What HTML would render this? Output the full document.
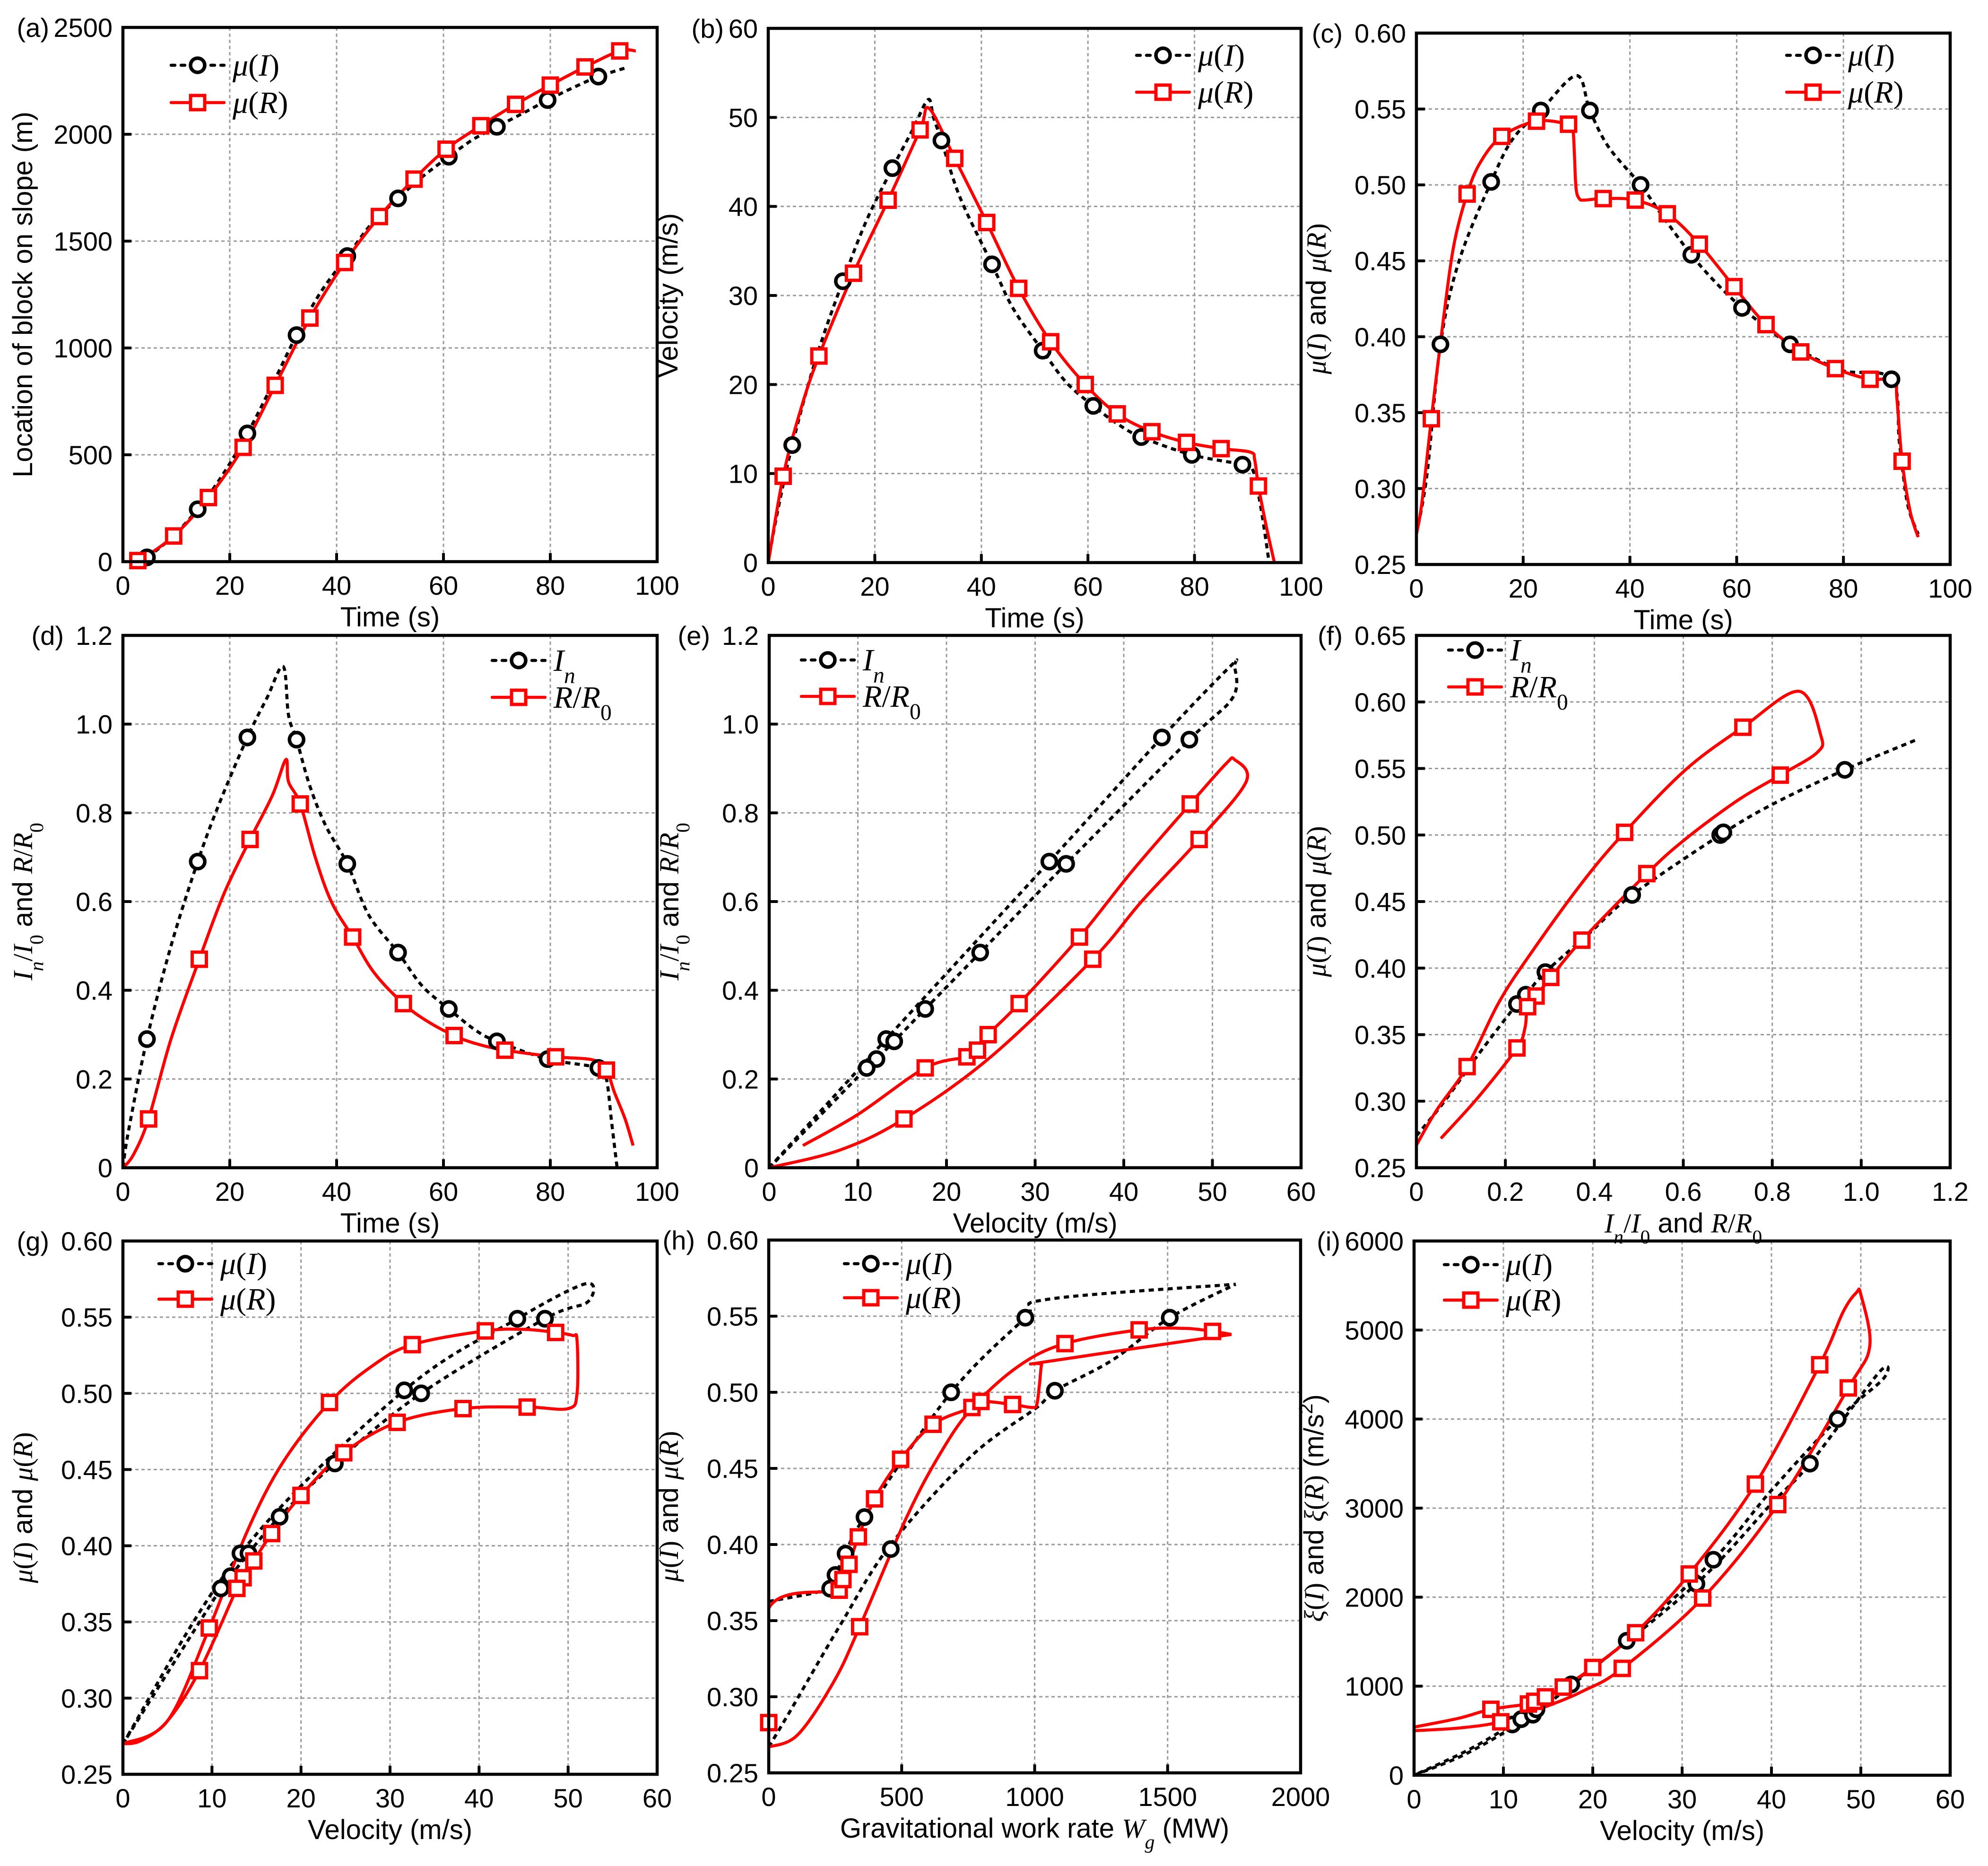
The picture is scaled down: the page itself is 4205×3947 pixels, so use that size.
<!DOCTYPE html>
<html><head><meta charset="utf-8">
<style>
html,body{margin:0;padding:0;background:#fff;}
svg{display:block;}
text{font-family:"Liberation Sans",Arial,sans-serif;fill:#000;}
</style></head>
<body>
<svg id="fig" xmlns="http://www.w3.org/2000/svg" width="4205" height="3947" viewBox="0 0 4205 3947">
<rect x="0" y="0" width="4205" height="3947" fill="#fff"/>
</svg>
<script>
// ---------- DATA ----------
const aLineI=[[3,0],[4.5,20],[9,110],[14,245],[18.5,400],[23.3,600],[28,830],[32.5,1060],[37,1260],[42,1430],[46.5,1580],[51.5,1700],[56,1800],[61,1895],[65.5,1975],[70,2035],[75,2100],[79.5,2160],[84,2215],[89,2270],[94,2310]];
const aMarkI=[[4.5,20],[14,245],[23.3,600],[32.5,1060],[42,1430],[51.5,1700],[61,1895],[70,2035],[79.5,2160],[89,2270]];
const aLineR=[[0,0],[2.8,5],[9.5,120],[16,300],[22.5,535],[28.5,825],[35,1140],[41.5,1400],[48,1615],[54.5,1790],[60.5,1930],[67,2040],[73.5,2140],[80,2230],[86.5,2315],[93,2390],[96,2390]];
const aMarkR=[[2.8,5],[9.5,120],[16,300],[22.5,535],[28.5,825],[35,1140],[41.5,1400],[48,1615],[54.5,1790],[60.5,1930],[67,2040],[73.5,2140],[80,2230],[86.5,2315],[93,2390]];
const bLineI=[[0,0],[1.5,5],[4.5,13.2],[9,23],[14,31.6],[18.5,38.5],[23.3,44.3],[27,48.5],[30,52],[31,50],[32.5,47.4],[36,41],[42,33.5],[46,28.5],[51.5,23.8],[56,20.2],[61,17.6],[65.5,15.6],[70,14.1],[79.5,12.1],[89,11],[91,10.3],[92.5,6],[94,0]];
const bMarkI=[[4.5,13.2],[14,31.6],[23.3,44.3],[32.5,47.4],[42,33.5],[51.5,23.8],[61,17.6],[70,14.1],[79.5,12.1],[89,11]];
const bLineR=[[0,0],[2.8,9.7],[6,17],[9.5,23.2],[16,32.5],[22.5,40.7],[28.5,48.6],[30.2,51],[35,45.4],[41,38.2],[47,30.8],[53,24.8],[59.5,20],[65.5,16.7],[72,14.7],[78.5,13.5],[85,12.8],[90.5,12.4],[91.3,11.5],[92,8.6],[93.5,4],[95,0]];
const bMarkR=[[2.8,9.7],[9.5,23.2],[16,32.5],[22.5,40.7],[28.5,48.6],[35,45.4],[41,38.2],[47,30.8],[53,24.8],[59.5,20],[65.5,16.7],[72,14.7],[78.5,13.5],[85,12.8],[92,8.6]];
const cLineI=[[0,0.27],[2,0.31],[4.5,0.395],[8,0.45],[14,0.502],[18,0.53],[23.3,0.549],[30,0.572],[32.5,0.549],[36,0.525],[42,0.5],[46,0.48],[51.5,0.454],[56,0.436],[61,0.419],[66,0.405],[70,0.395],[79.5,0.378],[89,0.372],[90.5,0.33],[92,0.29],[94,0.27]];
const cMarkI=[[4.5,0.395],[14,0.502],[23.3,0.549],[32.5,0.549],[42,0.5],[51.5,0.454],[61,0.419],[70,0.395],[89,0.372]];
const cLineR=[[0,0.27],[1,0.29],[2.8,0.346],[5,0.41],[7,0.46],[9.5,0.494],[12,0.515],[16,0.532],[22.5,0.542],[28.5,0.54],[29.3,0.537],[29.6,0.52],[29.9,0.498],[30.5,0.491],[31.5,0.49],[35,0.491],[41,0.49],[47,0.481],[53,0.461],[59.5,0.433],[65.5,0.408],[72,0.39],[78.5,0.379],[85,0.372],[89.5,0.372],[90,0.36],[91,0.318],[92.5,0.285],[94,0.268]];
const cMarkR=[[2.8,0.346],[9.5,0.494],[16,0.532],[22.5,0.542],[28.5,0.54],[35,0.491],[41,0.49],[47,0.481],[53,0.461],[59.5,0.433],[65.5,0.408],[72,0.39],[78.5,0.379],[85,0.372],[91,0.318]];
const dLineI=[[0,0],[1,0.08],[4.5,0.29],[9,0.5],[14,0.69],[18,0.82],[23.3,0.97],[27,1.06],[30,1.13],[31,1.02],[32.5,0.965],[35,0.86],[38,0.77],[42,0.685],[46,0.57],[51.5,0.485],[56,0.41],[61,0.358],[66,0.31],[70,0.285],[79.5,0.245],[89,0.225],[90.5,0.2],[91.5,0.1],[92.5,0]];
const dMarkI=[[4.5,0.29],[14,0.69],[23.3,0.97],[32.5,0.965],[42,0.685],[51.5,0.485],[61,0.358],[70,0.285],[79.5,0.245],[89,0.225]];
const dLineR=[[0,0],[2,0.03],[4.8,0.11],[9,0.29],[14.3,0.47],[19,0.62],[23.8,0.74],[28,0.84],[30.5,0.92],[31,0.87],[33.2,0.82],[36,0.7],[39,0.6],[43,0.52],[47,0.44],[52.5,0.37],[57,0.33],[62,0.298],[66,0.28],[71.5,0.265],[81,0.25],[88,0.243],[90.5,0.22],[92,0.17],[94,0.11],[95.5,0.05]];
const dMarkR=[[4.8,0.11],[14.3,0.47],[23.8,0.74],[33.2,0.82],[43,0.52],[52.5,0.37],[62,0.298],[71.5,0.265],[81,0.25],[90.5,0.22]];
const eLineI=[[0,0],[13.2,0.29],[31.6,0.69],[44.3,0.97],[52,1.13],[52.5,1.13],[52.3,1.06],[47.4,0.965],[33.5,0.685],[23.8,0.485],[17.6,0.358],[14.1,0.285],[12.1,0.245],[11,0.225],[0,0]];
const eMarkI=[[13.2,0.29],[31.6,0.69],[44.3,0.97],[47.4,0.965],[33.5,0.685],[23.8,0.485],[17.6,0.358],[14.1,0.285],[12.1,0.245],[11,0.225]];
const eLineR=[[3.8,0.05],[10,0.12],[17.6,0.225],[22.3,0.25],[23.5,0.265],[24.7,0.3],[28.2,0.37],[35,0.52],[41,0.67],[47.5,0.82],[51.5,0.91],[52.5,0.92],[53.8,0.87],[48.5,0.74],[42,0.6],[36.5,0.47],[25,0.25],[15.2,0.11],[8,0.04],[0,0]];
const eMarkR=[[17.6,0.225],[22.3,0.25],[23.5,0.265],[24.7,0.3],[28.2,0.37],[35,0.52],[47.5,0.82],[48.5,0.74],[36.5,0.47],[15.2,0.11]];
const fLineI=[[0,0.274],[0.061,0.299],[0.139,0.335],[0.226,0.373],[0.246,0.38],[0.29,0.397],[0.388,0.426],[0.485,0.455],[0.683,0.5],[0.8,0.523],[0.963,0.549],[1.127,0.572]];
const fMarkI=[[0.226,0.373],[0.246,0.38],[0.29,0.397],[0.485,0.455],[0.683,0.5],[0.69,0.502],[0.963,0.549]];
const fLineR=[[0,0.267],[0.045,0.293],[0.114,0.326],[0.185,0.374],[0.255,0.41],[0.372,0.464],[0.468,0.502],[0.605,0.549],[0.734,0.581],[0.86,0.608],[0.909,0.575],[0.901,0.562],[0.818,0.545],[0.722,0.526],[0.605,0.497],[0.518,0.471],[0.372,0.421],[0.302,0.393],[0.269,0.379],[0.25,0.371],[0.244,0.355],[0.226,0.34],[0.139,0.303],[0.055,0.272]];
const fMarkR=[[0.114,0.326],[0.468,0.502],[0.734,0.581],[0.818,0.545],[0.518,0.471],[0.372,0.421],[0.302,0.393],[0.269,0.379],[0.25,0.371],[0.226,0.34]];
const gLineI=[[0,0.27],[13.2,0.395],[31.6,0.502],[44.3,0.549],[52,0.572],[52.2,0.56],[47.4,0.549],[33.5,0.5],[23.8,0.454],[17.6,0.419],[14.1,0.395],[12.1,0.38],[11,0.372],[0,0.27]];
const gMarkI=[[13.2,0.395],[31.6,0.502],[44.3,0.549],[47.4,0.549],[33.5,0.5],[23.8,0.454],[17.6,0.419],[14.1,0.395],[12.1,0.38],[11,0.372]];
const gLineR=[[0,0.27],[5,0.285],[9.7,0.346],[14,0.41],[18,0.455],[23.2,0.494],[28,0.518],[32.5,0.532],[40.7,0.541],[45,0.542],[48.6,0.54],[50.5,0.538],[51,0.535],[51,0.5],[50,0.49],[45.4,0.491],[38.2,0.49],[30.8,0.481],[24.8,0.461],[20,0.433],[16.7,0.408],[14.7,0.39],[13.5,0.379],[12.8,0.372],[8.6,0.318],[5,0.285],[2,0.272],[0,0.27]];
const gMarkR=[[9.7,0.346],[23.2,0.494],[32.5,0.532],[40.7,0.541],[48.6,0.54],[45.4,0.491],[38.2,0.49],[30.8,0.481],[24.8,0.461],[20,0.433],[16.7,0.408],[14.7,0.39],[13.5,0.379],[12.8,0.372],[8.6,0.318]];
const hLineI1=[[0,0.3626],[231,0.371],[251,0.38],[289,0.394],[360,0.418],[686,0.5],[965,0.549],[1046,0.561],[1756,0.571]];
const hLineI2=[[0,0.267],[82,0.291],[272,0.348],[459,0.4],[761,0.458],[1008,0.49],[1076,0.501],[1291,0.521],[1508,0.549],[1756,0.571]];
const hMarkI=[[231,0.371],[251,0.38],[289,0.394],[360,0.418],[459,0.397],[686,0.5],[965,0.549],[1076,0.501],[1508,0.549]];
const hLineR1=[[0,0.28],[0,0.358],[265,0.37],[279,0.377],[302,0.387],[337,0.405],[398,0.43],[496,0.456],[618,0.479],[764,0.49],[798,0.494],[917,0.492],[990,0.49],[1008,0.492],[1018,0.505],[1026,0.518],[1040,0.52],[1740,0.538]];
const hLineR2=[[0,0.267],[109,0.275],[245,0.31],[342,0.346],[516,0.417],[639,0.458],[761,0.489],[938,0.517],[1114,0.532],[1393,0.541],[1563,0.542],[1669,0.54],[1740,0.538]];
const hMarkR=[[0,0.283],[342,0.346],[265,0.37],[279,0.377],[302,0.387],[337,0.405],[398,0.43],[496,0.456],[618,0.479],[764,0.49],[798,0.494],[917,0.492],[1114,0.532],[1393,0.541],[1669,0.54]];
const iLineI=[[0,0],[6,250],[13.2,680],[20,1200],[31.6,2150],[40,3050],[44.3,3500],[52,4520],[52.5,4450],[47.4,4000],[40,3200],[33.5,2420],[23.8,1510],[17.6,1030],[13.7,740],[12,630],[11,570],[6,280],[0,0]];
const iMarkI=[[11,570],[12,630],[13.3,680],[13.7,740],[17.6,1020],[23.8,1510],[31.6,2150],[33.5,2420],[44.3,3500],[47.4,4000]];
const iLineR=[[0,540],[5,640],[8.6,740],[12.8,800],[13.5,830],[14.7,880],[16.7,990],[20,1210],[24.8,1600],[30.8,2260],[38.2,3270],[45.4,4610],[48,5200],[49.5,5420],[50,5400],[51,4820],[48.6,4350],[40.7,3040],[32.3,1990],[23.3,1200],[19,950],[15,780],[9.7,600],[5,530],[0,500]];
const iMarkR=[[8.6,740],[9.7,600],[12.8,800],[13.5,830],[14.7,880],[16.7,990],[20,1210],[24.8,1600],[30.8,2260],[38.2,3270],[45.4,4610],[48.6,4350],[40.7,3040],[32.3,1990],[23.3,1200]];

const ticksTime=[0,20,40,60,80,100];
const ticksVel=[0,10,20,30,40,50,60];
const ticksPos=[0,500,1000,1500,2000,2500];
const ticksVelY=[0,10,20,30,40,50,60];
const ticksMu=[0.25,0.30,0.35,0.40,0.45,0.50,0.55,0.60];
const ticksMuF=[0.25,0.30,0.35,0.40,0.45,0.50,0.55,0.60,0.65];
const ticksRatio=[0,0.2,0.4,0.6,0.8,1.0,1.2];
const ticksWg=[0,500,1000,1500,2000];
const ticksXi=[0,1000,2000,3000,4000,5000,6000];

// ---------- RENDERING ----------
const NS='http://www.w3.org/2000/svg';
const svg=document.getElementById('fig');
function mk(tag,parent){const e=document.createElementNS(NS,tag);parent.appendChild(e);return e;}
function setA(e,o){for(const k in o)e.setAttribute(k,o[k]);}

const SER='font-family="Liberation Serif" ';
const mu=(v)=>`<tspan ${SER}font-style="italic">μ</tspan><tspan ${SER}>(</tspan><tspan ${SER}font-style="italic">${v}</tspan><tspan ${SER}>)</tspan>`;
const xi=(v)=>`<tspan ${SER}font-style="italic">ξ</tspan><tspan ${SER}>(</tspan><tspan ${SER}font-style="italic">${v}</tspan><tspan ${SER}>)</tspan>`;
const InT=`<tspan ${SER}font-style="italic">I</tspan><tspan ${SER}font-style="italic" baseline-shift="sub" font-size="72%">n</tspan>`;
const RRT=`<tspan ${SER}font-style="italic">R</tspan><tspan ${SER}>/</tspan><tspan ${SER}font-style="italic">R</tspan><tspan ${SER}baseline-shift="sub" font-size="72%">0</tspan>`;
const ratioTitle=`${InT}<tspan ${SER}>/</tspan><tspan ${SER}font-style="italic">I</tspan><tspan ${SER}baseline-shift="sub" font-size="72%">0</tspan><tspan> and </tspan>${RRT}`;
const muTitle=`${mu('I')}<tspan> and </tspan>${mu('R')}`;

const fmt0=v=>String(v);
const fmt2=v=>v.toFixed(2);
const fmt1=v=>v===0?'0':v.toFixed(1);

const panels=[
 {id:'a',L:260,T:58,R:1390,B:1188,x0:0,x1:100,y0:0,y1:2500,xt:ticksTime,yt:ticksPos,xf:fmt0,yf:fmt0,xtitle:'Time (s)',ytitle:'Location of block on slope (m)',leg:[102,80,159],names:[mu('I'),mu('R')],
  lines:[[aLineI,'I'],[aLineR,'R']],marks:[[aMarkI,'I'],[aMarkR,'R']]},
 {id:'b',L:1625,T:60,R:2752,B:1190,x0:0,x1:100,y0:0,y1:60,xt:ticksTime,yt:ticksVelY,xf:fmt0,yf:fmt0,xtitle:'Time (s)',ytitle:'Velocity (m/s)',leg:[779,57,135],names:[mu('I'),mu('R')],
  lines:[[bLineI,'I'],[bLineR,'R']],marks:[[bMarkI,'I'],[bMarkR,'R']]},
 {id:'c',L:2996,T:70,R:4125,B:1194,x0:0,x1:100,y0:0.25,y1:0.60,xt:ticksTime,yt:ticksMu,xf:fmt0,yf:fmt2,xtitle:'Time (s)',ytitle:muTitle,leg:[783,47,125],names:[mu('I'),mu('R')],
  lines:[[cLineI,'I'],[cLineR,'R']],marks:[[cMarkI,'I'],[cMarkR,'R']]},
 {id:'d',L:260,T:1344,R:1390,B:2470,x0:0,x1:100,y0:0,y1:1.2,xt:ticksTime,yt:ticksRatio,xf:fmt0,yf:fmt1,xtitle:'Time (s)',ytitle:ratioTitle,leg:[781,53,131],names:[InT,RRT],
  lines:[[dLineI,'I'],[dLineR,'R']],marks:[[dMarkI,'I'],[dMarkR,'R']]},
 {id:'e',L:1627,T:1344,R:2752,B:2470,x0:0,x1:60,y0:0,y1:1.2,xt:ticksVel,yt:ticksRatio,xf:fmt0,yf:fmt1,xtitle:'Velocity (m/s)',ytitle:ratioTitle,leg:[68,52,129],names:[InT,RRT],
  lines:[[eLineI,'I'],[eLineR,'R']],marks:[[eMarkI,'I'],[eMarkR,'R']]},
 {id:'f',L:2996,T:1344,R:4125,B:2470,x0:0,x1:1.2,y0:0.25,y1:0.65,xt:ticksRatio,yt:ticksMuF,xf:fmt1,yf:fmt2,xtitle:ratioTitle,ytitle:muTitle,leg:[68,31,109],names:[InT,RRT],
  lines:[[fLineI,'I'],[fLineR,'R']],marks:[[fMarkI,'I'],[fMarkR,'R']]},
 {id:'g',L:260,T:2625,R:1390,B:3753,x0:0,x1:60,y0:0.25,y1:0.60,xt:ticksVel,yt:ticksMu,xf:fmt0,yf:fmt2,xtitle:'Velocity (m/s)',ytitle:muTitle,leg:[76,48,123],names:[mu('I'),mu('R')],
  lines:[[gLineI,'I'],[gLineR,'R']],marks:[[gMarkI,'I'],[gMarkR,'R']]},
 {id:'h',L:1626,T:2623,R:2751,B:3750,x0:0,x1:2000,y0:0.25,y1:0.60,xt:ticksWg,yt:ticksMu,xf:fmt0,yf:fmt2,xtitle:`<tspan>Gravitational work rate </tspan><tspan ${SER}font-style="italic">W</tspan><tspan ${SER}font-style="italic" baseline-shift="sub" font-size="72%">g</tspan><tspan> (MW)</tspan>`,ytitle:muTitle,leg:[160,50,122],names:[mu('I'),mu('R')],
  lines:[[hLineI1,'I'],[hLineI2,'I'],[hLineR1,'R'],[hLineR2,'R']],marks:[[hMarkI,'I'],[hMarkR,'R']]},
 {id:'i',L:2991,T:2625,R:4125,B:3755,x0:0,x1:60,y0:0,y1:6000,xt:ticksVel,yt:ticksXi,xf:fmt0,yf:fmt0,xtitle:'Velocity (m/s)',ytitle:`${xi('I')}<tspan> and </tspan>${xi('R')}<tspan> (m/s</tspan><tspan baseline-shift="super" font-size="70%">2</tspan><tspan>)</tspan>`,leg:[64,50,125],names:[mu('I'),mu('R')],
  lines:[[iLineI,'I'],[iLineR,'R']],marks:[[iMarkI,'I'],[iMarkR,'R']]}
];

function smoothPath(pts){
  let d='M'+pts[0][0].toFixed(1)+','+pts[0][1].toFixed(1);
  for(let i=1;i<pts.length;i++){
    const p0=pts[i-1],p1=pts[i],pm=pts[i-2]||p0,pn=pts[i+1]||p1;
    const c1=[p0[0]+(p1[0]-pm[0])/6,p0[1]+(p1[1]-pm[1])/6];
    const c2=[p1[0]-(pn[0]-p0[0])/6,p1[1]-(pn[1]-p0[1])/6];
    d+=' C'+c1[0].toFixed(1)+','+c1[1].toFixed(1)+' '+c2[0].toFixed(1)+','+c2[1].toFixed(1)+' '+p1[0].toFixed(1)+','+p1[1].toFixed(1);
  }
  return d;
}
function styleLine(e,kind){
  if(kind==='I')setA(e,{fill:'none',stroke:'#000','stroke-width':6.5,'stroke-dasharray':'11 9','stroke-linejoin':'round'});
  else setA(e,{fill:'none',stroke:'#ff0000','stroke-width':6.5,'stroke-linejoin':'round'});
}
function drawMarker(g,x,y,kind){
  let m;
  if(kind==='I'){m=mk('circle',g);setA(m,{cx:x,cy:y,r:15,fill:'#fff',stroke:'#000','stroke-width':7.5});}
  else{m=mk('rect',g);setA(m,{x:x-15,y:y-15,width:30,height:30,fill:'#fff',stroke:'#ff0000','stroke-width':7});}
  return m;
}

panels.forEach(p=>{
  const sx=v=>p.L+(v-p.x0)/(p.x1-p.x0)*(p.R-p.L);
  const sy=v=>p.B-(v-p.y0)/(p.y1-p.y0)*(p.B-p.T);
  const g=mk('g',svg);
  
  
  const grid=mk('g',g);
  
  
  p.xt.forEach(v=>{if(v===p.x0||v===p.x1)return;const l=mk('line',grid);setA(l,{x1:sx(v),x2:sx(v),y1:p.T,y2:p.B,stroke:'#9a9a9a','stroke-width':3,'stroke-dasharray':'7 6'});});
  p.yt.forEach(v=>{if(Math.abs(v-p.y0)<1e-9||Math.abs(v-p.y1)<1e-9)return;const l=mk('line',grid);setA(l,{x1:p.L,x2:p.R,y1:sy(v),y2:sy(v),stroke:'#9a9a9a','stroke-width':3,'stroke-dasharray':'7 6'});});
  const tk=mk('g',g);
  
  
  p.xt.forEach(v=>{const l=mk('line',tk);setA(l,{x1:sx(v),x2:sx(v),y1:p.B,y2:p.B-18,stroke:'#000','stroke-width':6});
    const t=mk('text',tk);setA(t,{x:sx(v),y:p.B+70,'font-size':56,'text-anchor':'middle'});t.textContent=p.xf(v);
    
    });
  p.yt.forEach(v=>{const l=mk('line',tk);setA(l,{x1:p.L,x2:p.L+18,y1:sy(v),y2:sy(v),stroke:'#000','stroke-width':6});
    const t=mk('text',tk);setA(t,{x:p.L-22,y:sy(v)+20,'font-size':56,'text-anchor':'end'});t.textContent=p.yf(v);
    
    });
  const clipId='clip'+p.id;
  const cp=mk('clipPath',g);cp.setAttribute('id',clipId);
  const cr=mk('rect',cp);setA(cr,{x:p.L,y:p.T,width:p.R-p.L,height:p.B-p.T});
  const sg=mk('g',g);sg.setAttribute('clip-path','url(#'+clipId+')');
  
  
  p.lines.forEach(([arr,kind])=>{
    const pts=arr.map(d=>[sx(d[0]),sy(d[1])]);
    const path=mk('path',sg);
    path.setAttribute('d',smoothPath(pts));
    styleLine(path,kind);
    
    
  });
  p.marks.forEach(([arr,kind])=>{
    arr.forEach(d=>{
      const m=drawMarker(g,sx(d[0]),sy(d[1]),kind);
      
      
    });
  });
  const fr=mk('rect',g);setA(fr,{x:p.L,y:p.T,width:p.R-p.L,height:p.B-p.T,fill:'none',stroke:'#000','stroke-width':6.5});
  
  
  const xt=mk('text',g);setA(xt,{x:(p.L+p.R)/2,y:p.B+137,'font-size':58,'text-anchor':'middle'});xt.innerHTML=p.xtitle;
  
  
  const cx=p.L-192,cy=(p.T+p.B)/2;
  const yt=mk('text',g);setA(yt,{x:cx,y:cy,'font-size':58,'text-anchor':'middle',transform:`rotate(-90 ${cx} ${cy})`});yt.innerHTML=p.ytitle;
  
  
  const topLab=p.yf(p.yt[p.yt.length-1]);
  const lw=topLab.length*31;
  const pl=mk('text',g);setA(pl,{x:p.L-22-lw-10,y:p.T+20,'font-size':56,'text-anchor':'end'});pl.textContent='('+p.id+')';
  
  
  const lg=mk('g',g);
  
  
  ['I','R'].forEach((kind,k)=>{
    const y=p.T+p.leg[1+k],x0=p.L+p.leg[0];
    const ln=mk('line',lg);setA(ln,{x1:x0,x2:x0+112,y1:y,y2:y});styleLine(ln,kind);
    ln.setAttribute('stroke-linecap','round');
    if(kind==='I')ln.setAttribute('stroke-dasharray','8 13');
    drawMarker(lg,x0+56,y,kind);
    const t=mk('text',lg);setA(t,{x:x0+130,y:y+22,'font-size':66});t.innerHTML=p.names[k];
    
    
  });
});
</script>
</body></html>
